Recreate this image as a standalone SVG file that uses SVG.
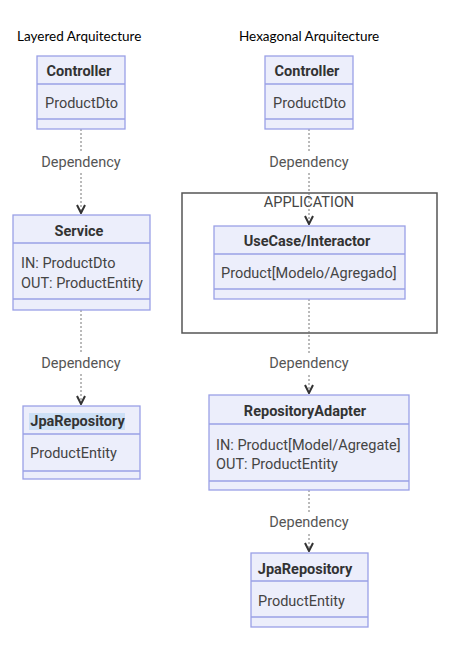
<svg xmlns="http://www.w3.org/2000/svg" width="456" height="661" viewBox="0 0 456 661">
<defs>
<style>
.bg{fill:#ffffff}
.head{font-family:Lato,"Open Sans",sans-serif;font-size:13.5px;fill:#000}
.box{fill:#eceefb;stroke:#9aa0e6;stroke-width:1.3}
.div{stroke:#9aa0e6;stroke-width:1.3}
.title{font-family:Roboto,"Liberation Sans",sans-serif;font-size:14.5px;font-weight:bold;fill:#333;text-anchor:middle}
.body{font-family:Roboto,"Liberation Sans",sans-serif;font-size:14.5px;fill:#444}
.lbl{font-family:Roboto,"Liberation Sans",sans-serif;font-size:14.5px;fill:#555;text-anchor:middle}
.dep{stroke:#777;stroke-width:1;stroke-dasharray:2,2;fill:none}
.app{fill:none;stroke:#555;stroke-width:1.5}
.appt{font-family:Roboto,"Liberation Sans",sans-serif;font-size:14.5px;fill:#444;text-anchor:middle}
</style>
<marker id="arr" viewBox="0 0 10 10" refX="9" refY="5" markerWidth="10" markerHeight="10" markerUnits="userSpaceOnUse" orient="auto">
<path d="M1,1 L9,5 L1,9" fill="none" stroke="#333" stroke-width="2"/>
</marker>
</defs>
<rect class="bg" x="0" y="0" width="456" height="661"/>
<text class="head" x="17" y="41">Layered Arquitecture</text>
<text class="head" x="239" y="41">Hexagonal Arquitecture</text>

<g id="application">
<rect class="app" x="182" y="193" width="255" height="140"/>
<text class="appt" x="309" y="207">APPLICATION</text>
</g>

<g id="connectors">
<line class="dep" x1="81" y1="129" x2="81" y2="213" marker-end="url(#arr)"/>
<line class="dep" x1="81" y1="310" x2="81" y2="404" marker-end="url(#arr)"/>
<line class="dep" x1="309" y1="129" x2="309" y2="224" marker-end="url(#arr)"/>
<line class="dep" x1="309" y1="299" x2="309" y2="393" marker-end="url(#arr)"/>
<line class="dep" x1="309" y1="490" x2="309" y2="551" marker-end="url(#arr)"/>
<rect x="40" y="152" width="82" height="20" fill="#fff"/>
<text class="lbl" x="81" y="167">Dependency</text>
<rect x="40" y="353" width="82" height="20" fill="#fff"/>
<text class="lbl" x="81" y="368">Dependency</text>
<rect x="268" y="152" width="82" height="20" fill="#fff"/>
<text class="lbl" x="309" y="167">Dependency</text>
<rect x="268" y="353" width="82" height="20" fill="#fff"/>
<text class="lbl" x="309" y="368">Dependency</text>
<rect x="268" y="512" width="82" height="20" fill="#fff"/>
<text class="lbl" x="309" y="527">Dependency</text>
</g>

<g id="controller-left">
<rect class="box" x="37" y="56" width="88" height="73"/>
<line class="div" x1="37" y1="84" x2="125" y2="84"/>
<line class="div" x1="37" y1="119" x2="125" y2="119"/>
<text class="title" x="79" y="76">Controller</text>
<text class="body" x="45" y="108">ProductDto</text>
</g>

<g id="service">
<rect class="box" x="13" y="215" width="137" height="95"/>
<line class="div" x1="13" y1="243" x2="150" y2="243"/>
<line class="div" x1="13" y1="299" x2="150" y2="299"/>
<text class="title" x="79" y="236">Service</text>
<text class="body" x="21" y="268">IN: ProductDto</text>
<text class="body" x="21" y="288">OUT: ProductEntity</text>
</g>

<g id="jparepository-left">
<rect class="box" x="23" y="406" width="117" height="73"/>
<line class="div" x1="23" y1="434" x2="140" y2="434"/>
<line class="div" x1="23" y1="471" x2="140" y2="471"/>
<rect x="29" y="413" width="96" height="17" fill="#cde0f6"/>
<text class="title" x="77.5" y="426">JpaRepository</text>
<text class="body" x="30" y="458">ProductEntity</text>
</g>

<g id="controller-right">
<rect class="box" x="265" y="56" width="88" height="73"/>
<line class="div" x1="265" y1="84" x2="353" y2="84"/>
<line class="div" x1="265" y1="119" x2="353" y2="119"/>
<text class="title" x="307" y="76">Controller</text>
<text class="body" x="273" y="108">ProductDto</text>
</g>

<g id="usecase">
<rect class="box" x="214" y="226" width="191" height="73"/>
<line class="div" x1="214" y1="254" x2="405" y2="254"/>
<line class="div" x1="214" y1="289" x2="405" y2="289"/>
<text class="title" x="307" y="246">UseCase/Interactor</text>
<text class="body" x="221" y="278">Product[Modelo/Agregado]</text>
</g>

<g id="repositoryadapter">
<rect class="box" x="209" y="395" width="200" height="95"/>
<line class="div" x1="209" y1="424" x2="409" y2="424"/>
<line class="div" x1="209" y1="481" x2="409" y2="481"/>
<text class="title" x="305" y="416">RepositoryAdapter</text>
<text class="body" x="216" y="450">IN: Product[Model/Agregate]</text>
<text class="body" x="216" y="469">OUT: ProductEntity</text>
</g>

<g id="jparepository-right">
<rect class="box" x="251" y="553" width="117" height="74"/>
<line class="div" x1="251" y1="581" x2="368" y2="581"/>
<line class="div" x1="251" y1="617" x2="368" y2="617"/>
<text class="title" x="305" y="574">JpaRepository</text>
<text class="body" x="258" y="606">ProductEntity</text>
</g>
</svg>
